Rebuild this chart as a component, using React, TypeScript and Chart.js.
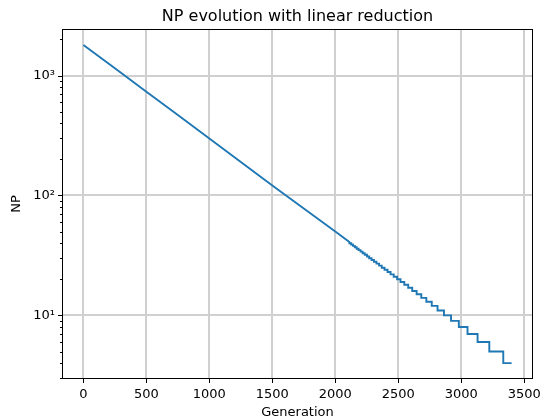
import React, { useEffect, useRef } from "react";
import { Chart, registerables } from "chart.js";

Chart.register(...registerables);

// Smooth part of the curve (generation, NP)
const smoothGens = [0, 250, 500, 750, 1000, 1250, 1500, 1750, 2000, 2112];
const smoothNP = [1800, 1149, 733, 468, 298, 190, 121, 78, 50, 41];

// Visible steps: generation where NP drops to the given value
const stepGens = [
  2112, 2126, 2140, 2155, 2170, 2185, 2201, 2217, 2234, 2252, 2269, 2288, 2307,
  2327, 2348, 2369, 2391, 2415, 2439, 2464, 2491, 2518, 2548, 2579, 2611, 2646,
  2683, 2723, 2766, 2812, 2863, 2919, 2981, 3050, 3130, 3223, 3334,
];
const stepNP = [
  40, 39, 38, 37, 36, 35, 34, 33, 32, 31, 30, 29, 28, 27, 26, 25, 24, 23, 22,
  21, 20, 19, 18, 17, 16, 15, 14, 13, 12, 11, 10, 9, 8, 7, 6, 5, 4,
];
const lastGen = 3400;

const xTicks = [0, 500, 1000, 1500, 2000, 2500, 3000, 3500];
const yMajorTicks = [10, 100, 1000];
const yMinorTicks = [
  3, 4, 5, 6, 7, 8, 9, 20, 30, 40, 50, 60, 70, 80, 90, 200, 300, 400, 500, 600,
  700, 800, 900, 2000,
];
const yLabels: Record<number, string> = { 10: "10¹", 100: "10²", 1000: "10³" };

const FONT = "'DejaVu Sans', sans-serif";
const GRID = "#d0d0d0";

export default function App() {
  const ref = useRef<HTMLCanvasElement | null>(null);

  useEffect(() => {
    document.body.style.margin = "0";
    const canvas = ref.current;
    if (!canvas) return;

    const points: { x: number; y: number }[] = [];
    smoothGens.forEach((g, i) => points.push({ x: g, y: smoothNP[i] }));
    let prev = smoothNP[smoothNP.length - 1];
    stepGens.forEach((g, i) => {
      points.push({ x: g, y: prev });
      points.push({ x: g, y: stepNP[i] });
      prev = stepNP[i];
    });
    points.push({ x: lastGen, y: prev });

    const framePlugin = {
      id: "frameAndTicks",
      afterDraw(chart: any) {
        const { ctx, chartArea } = chart;
        const xs = chart.scales.x;
        const ys = chart.scales.y;
        ctx.save();
        ctx.strokeStyle = "#000";
        ctx.lineWidth = 1;
        ctx.strokeRect(
          Math.round(chartArea.left) + 0.5,
          Math.round(chartArea.top) + 0.5,
          Math.round(chartArea.right - chartArea.left) - 1,
          Math.round(chartArea.bottom - chartArea.top) - 1
        );
        ctx.beginPath();
        const bottom = Math.round(chartArea.bottom) - 0.5;
        xTicks.forEach((v) => {
          const px = Math.round(xs.getPixelForValue(v)) + 0.5;
          ctx.moveTo(px, bottom);
          ctx.lineTo(px, bottom + 4.5);
        });
        const left = Math.round(chartArea.left) + 0.5;
        yMajorTicks.forEach((v) => {
          const py = Math.round(ys.getPixelForValue(v)) + 0.5;
          ctx.moveTo(left, py);
          ctx.lineTo(left - 4.5, py);
        });
        yMinorTicks.forEach((v) => {
          const py = Math.round(ys.getPixelForValue(v)) + 0.5;
          ctx.moveTo(left, py);
          ctx.lineTo(left - 2.5, py);
        });
        ctx.stroke();
        ctx.fillStyle = "#000";
        ctx.font = `16px ${FONT}`;
        ctx.textAlign = "center";
        ctx.textBaseline = "alphabetic";
        ctx.fillText(
          "NP evolution with linear reduction",
          (chartArea.left + chartArea.right) / 2,
          21
        );
        ctx.restore();
      },
    };

    const chart = new Chart(canvas, {
      type: "line",
      data: {
        datasets: [
          {
            data: points,
            borderColor: "#1f77b4",
            borderWidth: 1.9,
            pointRadius: 0,
            fill: false,
            tension: 0,
          },
        ],
      },
      options: {
        responsive: false,
        animation: false,
        layout: { padding: { top: 29, right: 7, left: 0, bottom: 0 } },
        plugins: {
          legend: { display: false },
          title: { display: false },
          tooltip: { enabled: false },
        },
        scales: {
          x: {
            type: "linear",
            min: -170,
            max: 3570,
            border: { display: false },
            grid: {
              color: GRID,
              lineWidth: 2,
              drawTicks: false,
            },
            ticks: {
              color: "#000",
              font: { family: FONT, size: 13 },
              padding: 8,
              maxRotation: 0,
              autoSkip: false,
              callback: (v: any) => String(v),
            },
            title: {
              display: true,
              text: "Generation",
              color: "#000",
              font: { family: FONT, size: 13 },
              padding: { top: 1, bottom: 0 },
            },
            afterBuildTicks: (scale: any) => {
              scale.ticks = xTicks.map((v) => ({ value: v }));
            },
            afterFit: (scale: any) => {
              scale.height = 41;
              scale.paddingLeft = 0;
              scale.paddingRight = 0;
            },
          },
          y: {
            type: "logarithmic",
            min: 2.95,
            max: 2443,
            border: { display: false },
            grid: {
              color: (c: any) =>
                yMajorTicks.includes(c.tick?.value) ? GRID : "rgba(0,0,0,0)",
              lineWidth: 2,
              drawTicks: false,
            },
            ticks: {
              color: "#000",
              font: { family: FONT, size: 13 },
              padding: 7,
              autoSkip: false,
              callback: (v: any) => yLabels[Number(v)] ?? "",
            },
            title: {
              display: true,
              text: "NP",
              color: "#000",
              font: { family: FONT, size: 13 },
              padding: { top: 9, bottom: 0 },
            },
            afterBuildTicks: (scale: any) => {
              scale.ticks = [...yMinorTicks, ...yMajorTicks]
                .sort((a, b) => a - b)
                .map((v) => ({ value: v, major: yMajorTicks.includes(v) }));
            },
            afterFit: (scale: any) => {
              scale.width = 62;
              scale.paddingTop = 0;
              scale.paddingBottom = 0;
            },
          },
        },
      },
      plugins: [framePlugin],
    } as any);

    return () => chart.destroy();
  }, []);

  return (
    <div style={{ width: 540, height: 420 }}>
      <canvas ref={ref} width={540} height={420} />
    </div>
  );
}
